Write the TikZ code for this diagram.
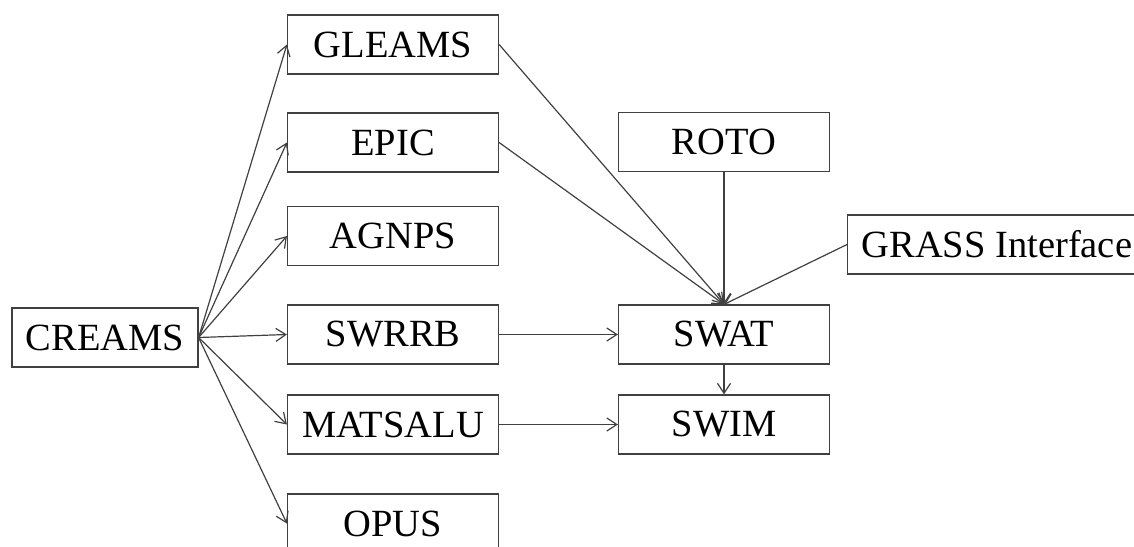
\documentclass[tikz,border=0pt]{standalone}
\usepackage{fontspec}
\setmainfont{Liberation Serif}
\usepackage{tikz}
\usetikzlibrary{arrows.meta, positioning}
\usepackage{xcolor}

\begin{document}
\begin{tikzpicture}[
  x=1pt, y=-1pt,
  block/.style={rectangle, draw=black!75, line width=1.2pt, fill=white, minimum width=211pt, minimum height=59pt, inner sep=0pt, font=\fontsize{38.5}{44}\selectfont},
  wideblock/.style={block, minimum width=0pt, inner xsep=14pt},
  arrow/.style={-{Straight Barb[length=10pt, width=13pt]}, line width=1.2pt, draw=black!75}
]
\useasboundingbox (0,0) rectangle (1134,546);
\node[block, minimum width=186pt] (creams) at (105,337.5) {CREAMS};
\node[block] (gleams) at (393,44.5) {GLEAMS};
\node[block] (epic) at (393,142.5) {EPIC};
\node[block] (agnps) at (393,236) {AGNPS};
\node[block] (swrrb) at (393,334.5) {SWRRB};
\node[block] (matsalu) at (393,424.5) {MATSALU};
\node[block] (opus) at (393,523.5) {OPUS};
\node[block] (roto) at (724,142) {ROTO};
\node[wideblock, anchor=west] (grass) at (847,244.5) {GRASS Interface};
\node[block] (swat) at (724,334.5) {SWAT};
\node[block] (swim) at (724,424.5) {SWIM};

\draw[arrow] (creams.east) -- (gleams.west);
\draw[arrow] (creams.east) -- (epic.west);
\draw[arrow] (creams.east) -- (agnps.west);
\draw[arrow] (creams.east) -- (swrrb.west);
\draw[arrow] (creams.east) -- (matsalu.west);
\draw[arrow] (creams.east) -- (opus.west);
\draw[arrow] (gleams.east) -- (swat.north);
\draw[arrow] (epic.east) -- (swat.north);
\draw[arrow] (roto.south) -- (swat.north);
\draw[arrow] (grass.west) -- (swat.north);
\draw[arrow] (swrrb.east) -- (swat.west);
\draw[arrow] (matsalu.east) -- (swim.west);
\draw[arrow] (swat.south) -- (swim.north);
\end{tikzpicture}
\end{document}
